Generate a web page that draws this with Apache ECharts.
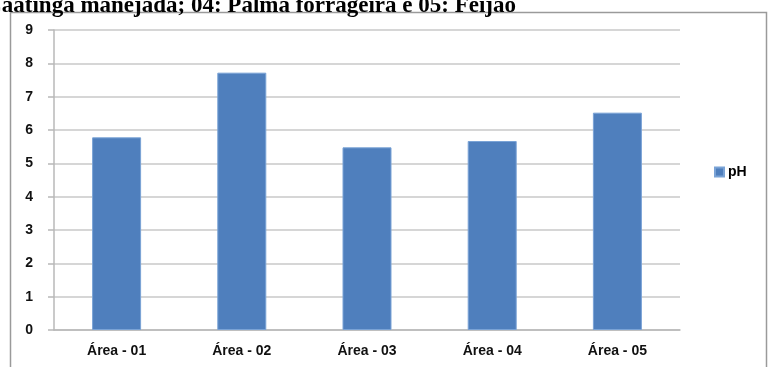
<!DOCTYPE html>
<html><head><meta charset="utf-8">
<script src="https://cdn.jsdelivr.net/npm/echarts@6/dist/echarts.min.js"></script>
<style>html,body{margin:0;padding:0;background:#fff}#c{width:768px;height:367px}</style>
</head><body><div id="c"></div>
<script>
const categories = ['Área - 01','Área - 02','Área - 03','Área - 04','Área - 05'];
const phValues = [5.78, 7.72, 5.48, 5.67, 6.52];
const yTicks = [0,1,2,3,4,5,6,7,8,9];
const seriesName = 'pH';
const titleText = 'Caatinga manejada; 04: Palma forrageira e 05: Feijão';

const chart = echarts.init(document.getElementById('c'));
chart.setOption({
  animation: false,
  backgroundColor: '#fff',
  graphic: [
    {type:'rect', shape:{x:10.5,y:12.5,width:756,height:380}, style:{fill:'none', stroke:'#9a9a9a', lineWidth:1.5}, z:-1},
    {type:'text', x:516, y:18, style:{text:titleText, font:'bold 23px "Liberation Serif"', fill:'#000', textAlign:'right', textVerticalAlign:'bottom'}}
  ],
  legend: {
    data:[seriesName], left: 709, top: 160, orient:'vertical',
    itemWidth: 9, itemHeight: 9, itemGap: 4, icon:'rect',
    textStyle:{fontFamily:'Liberation Sans', fontWeight:'bold', fontSize:14, color:'#000', padding:[0,0,0,-1]}
  },
  grid: {left:54, right:88, top:30, bottom:37, containLabel:false},
  xAxis: {
    type:'category', data:categories,
    axisLine:{lineStyle:{color:'#b8b8b8', width:1.5}},
    axisTick:{show:false},
    axisLabel:{fontFamily:'Liberation Sans', fontWeight:'bold', fontSize:14, color:'#111', margin:14}
  },
  yAxis: {
    type:'value', min:yTicks[0], max:yTicks[yTicks.length-1], interval:1,
    axisLine:{show:true, lineStyle:{color:'#b8b8b8', width:1.5}},
    axisTick:{show:true, length:6, lineStyle:{color:'#b8b8b8', width:1.5}},
    splitLine:{lineStyle:{color:'#d6d6d6', width:2}},
    axisLabel:{fontFamily:'Liberation Sans', fontWeight:'bold', fontSize:14, color:'#111', margin:21}
  },
  series: [{
    name: seriesName, type:'bar', data: phValues, barWidth: 49,
    itemStyle:{color:'#4f7fbd', borderColor:'#7aa3d6', borderWidth:1}
  }]
});
</script></body></html>
